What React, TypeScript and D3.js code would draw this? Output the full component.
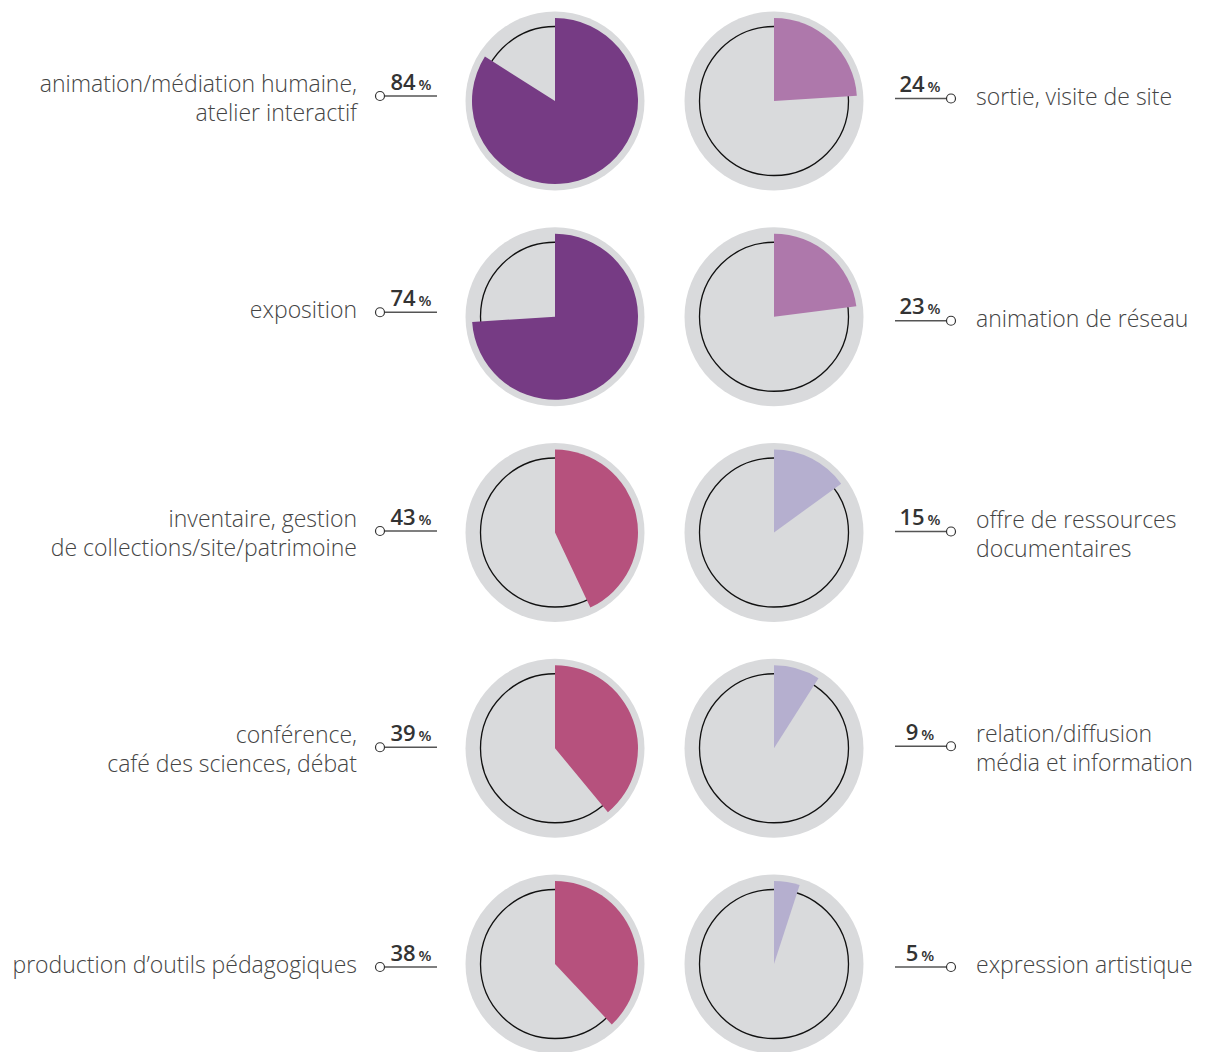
import React from 'react';
import * as d3 from 'd3';

// left column
const leftLabels = [
  ['animation/médiation humaine,', 'atelier interactif'],
  ['exposition'],
  ['inventaire, gestion', 'de collections/site/patrimoine'],
  ['conférence,', 'café des sciences, débat'],
  ['production d’outils pédagogiques'],
];
const leftValues = [84, 74, 43, 39, 38];

// right column
const rightLabels = [
  ['sortie, visite de site'],
  ['animation de réseau'],
  ['offre de ressources', 'documentaires'],
  ['relation/diffusion', 'média et information'],
  ['expression artistique'],
];
const rightValues = [24, 23, 15, 9, 5];

const width = 1212;
const height = 1052;
const font = '"Open Sans", "Noto Sans", sans-serif';

// small hand nudges of the label markers, as in the original layout
const leftNudge = [-5, -4.5, -1.5, -1, 3];
const rightNudge = [-2.5, 4, -1, -2, 3];

const App = () => {
  const rows = d3.range(5);
  const y = d3.scalePoint<number>().domain(rows).range([101, 964]);
  const angle = d3.scaleLinear().domain([0, 100]).range([0, 2 * Math.PI]);
  const color = d3.scaleThreshold<number, string>()
    .domain([20, 30, 50])
    .range(['#b5afcf', '#ae78ab', '#b6517d', '#763b84']);

  const wedge = d3.arc<number>()
    .innerRadius(0)
    .outerRadius(83)
    .startAngle(0)
    .endAngle(d => angle(d));

  const pie = (cx: number, cy: number, v: number, key: string) => (
    <g key={key} transform={`translate(${cx},${cy})`}>
      <circle r={89.5} fill="#d9dadc" />
      <circle r={74.5} fill="none" stroke="#111" strokeWidth={1.3} />
      <path d={wedge(v) || ''} fill={color(v)} />
    </g>
  );

  const value = (x: number, yy: number, v: number) => (
    <text x={x} y={yy} textAnchor="middle" fontFamily={font} fontWeight={600} fill="#333" fontSize={22}>
      {v}
      <tspan fontSize={15} dx={3}>%</tspan>
    </text>
  );

  const label = (x: number, yy: number, lines: string[], anchor: string) => {
    const first = lines.length > 1 ? yy - 4 : yy + 6;
    return (
      <text textAnchor={anchor} fontFamily={font} fontWeight={300} fontSize={23} fill="#444">
        {lines.map((l, i) => (
          <tspan key={i} x={x} y={first + i * 29}>{l}</tspan>
        ))}
      </text>
    );
  };

  return (
    <div style={{ position: 'absolute', left: 0, top: 0 }}>
      <svg width={width} height={height}>
        {rows.map(i => {
          const cy = y(i) as number;
          const ly = cy + leftNudge[i];
          const ry = cy + rightNudge[i];
          return (
            <g key={i}>
              {pie(555, cy, leftValues[i], 'l')}
              {pie(774, cy, rightValues[i], 'r')}

              <line x1={380} x2={437} y1={ly} y2={ly} stroke="#555" strokeWidth={1.5} />
              <circle cx={380} cy={ly} r={4.5} fill="#fff" stroke="#333" strokeWidth={1.2} />
              {value(411, ly - 6.5, leftValues[i])}
              {label(357, ly, leftLabels[i], 'end')}

              <line x1={895} x2={951} y1={ry} y2={ry} stroke="#555" strokeWidth={1.5} />
              <circle cx={951} cy={ry} r={4.5} fill="#fff" stroke="#333" strokeWidth={1.2} />
              {value(920, ry - 6.5, rightValues[i])}
              {label(976, ry, rightLabels[i], 'start')}
            </g>
          );
        })}
      </svg>
    </div>
  );
};

export default App;
